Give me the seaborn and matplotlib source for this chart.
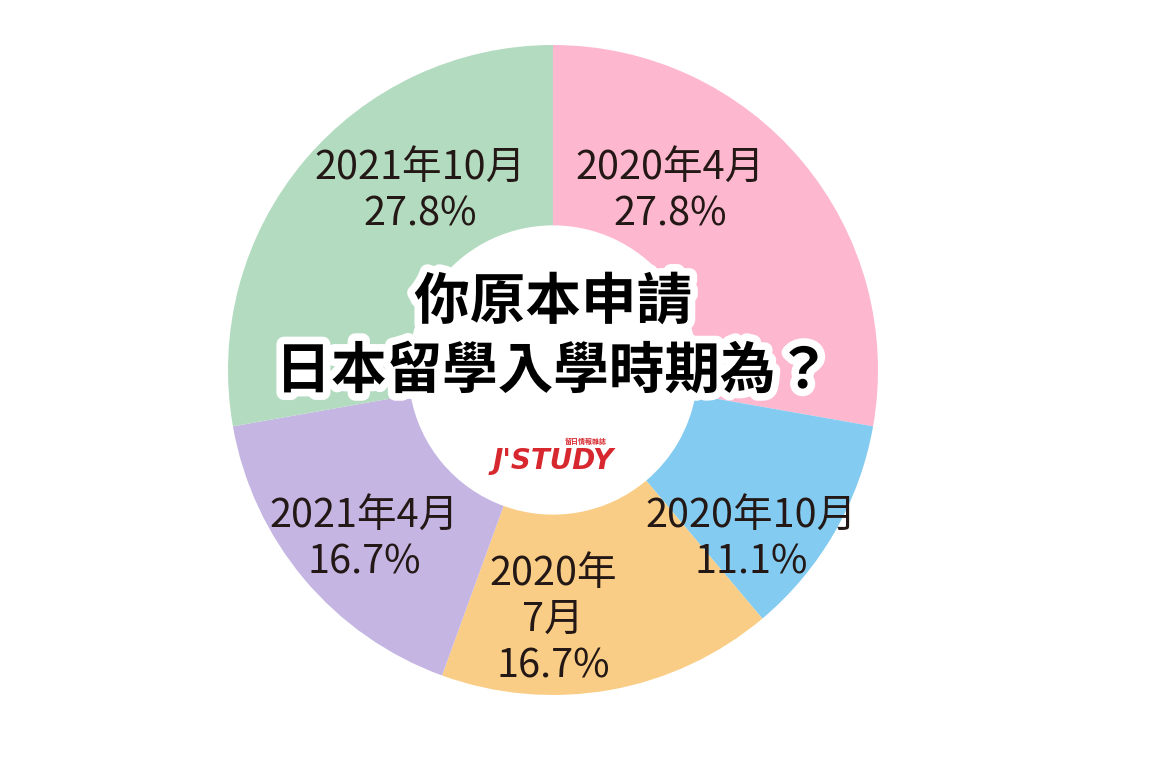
import matplotlib
matplotlib.use("Agg")
import matplotlib.pyplot as plt
import matplotlib.patheffects as pe
import seaborn as sns

sns.set_theme(style="white")
plt.rcParams['font.family'] = ['Noto Sans CJK TC', 'DejaVu Sans']

categories = ["2020年4月", "2020年10月", "2020年\n7月", "2021年4月", "2021年10月"]
values = [27.8, 11.1, 16.7, 16.7, 27.8]
colors = ["#FDB8CF", "#83CBF0", "#F9CD85", "#C5B5E3", "#B3DBC0"]
label_pos = [(0.36, 0.55), (0.61, -0.52), (0.0, -0.77), (-0.58, -0.52), (-0.41, 0.55)]

fig = plt.figure(figsize=(11.7, 7.6), dpi=100)
ax = fig.add_axes([(553-325)/1170, (760-370-325)/760, 650/1170, 650/760])
ax.pie(values, colors=colors, startangle=90, counterclock=False,
       wedgeprops=dict(width=0.555, edgecolor="white", linewidth=0))
ax.set_xlim(-1, 1); ax.set_ylim(-1, 1)
ax.set_aspect("equal")
for cat, v, (x, y) in zip(categories, values, label_pos):
    ax.text(x, y, f"{cat}\n{v}%", ha="center", va="center", fontsize=28.5,
            color="#231815", linespacing=1.2)

ax.text(0.0, 0.1, "你原本申請\n日本留學入學時期為？", ha="center", va="center",
        fontsize=40, fontweight="bold", color="black", linespacing=1.3,
        path_effects=[pe.withStroke(linewidth=11, foreground="white")])
ax.text(0.0, -0.28, "J'STUDY", ha="center", va="center", fontsize=20,
        fontweight="bold", style="italic", color="#D7282F", family=["DejaVu Sans"])
ax.text(0.1, -0.22, "留日情報雜誌", ha="center", va="center", fontsize=5,
        fontweight="bold", color="#D7282F")
fig.savefig("out.png", dpi=100)
